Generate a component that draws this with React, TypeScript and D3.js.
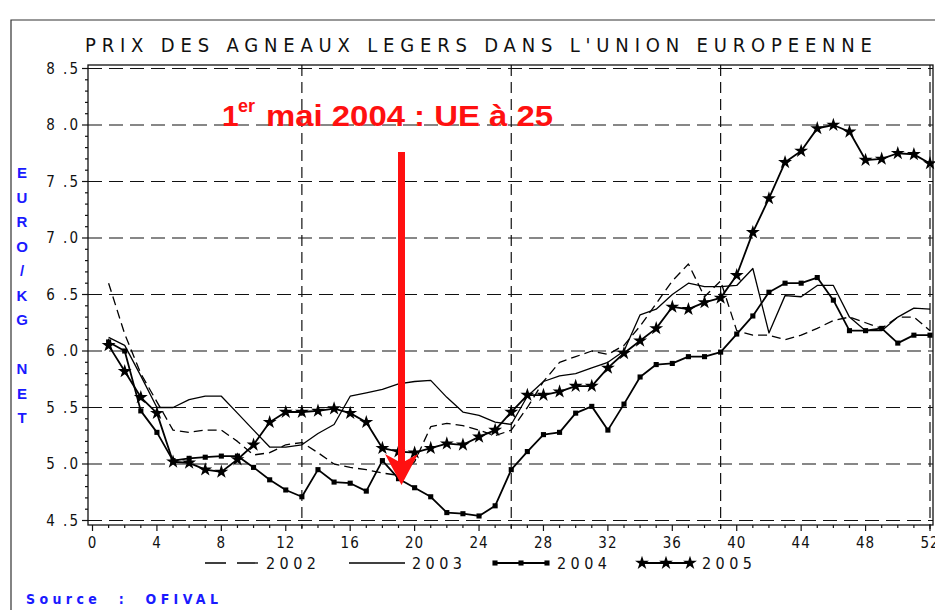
import * as d3 from 'd3';
import React, { useEffect, useRef } from 'react';

const weeks = [1, 2, 3, 4, 5, 6, 7, 8, 9, 10, 11, 12, 13, 14, 15, 16, 17, 18, 19, 20, 21, 22, 23, 24, 25, 26,
    27, 28, 29, 30, 31, 32, 33, 34, 35, 36, 37, 38, 39, 40, 41, 42, 43, 44, 45, 46, 47, 48, 49, 50, 51, 52];

const prix2002 = [6.6, 6.15, 5.8, 5.55, 5.3, 5.28, 5.3, 5.3, 5.2, 5.08, 5.1, 5.17, 5.19, 5.1, 5.0, 4.97, 4.95, 4.92,
    4.9, 5.02, 5.33, 5.36, 5.34, 5.3, 5.25, 5.3, 5.5, 5.73, 5.9, 5.95, 6.0, 5.97, 6.05, 6.22, 6.42, 6.62, 6.77, 6.48,
    6.62, 6.18, 6.14, 6.14, 6.1, 6.14, 6.2, 6.27, 6.3, 6.25, 6.2, 6.3, 6.3, 6.18];

const prix2003 = [6.12, 6.05, 5.78, 5.5, 5.5, 5.57, 5.6, 5.6, 5.45, 5.3, 5.15, 5.15, 5.17, 5.27, 5.35, 5.6, 5.63,
    5.66, 5.71, 5.73, 5.74, 5.59, 5.46, 5.43, 5.37, 5.35, 5.6, 5.73, 5.78, 5.8, 5.85, 5.9, 6.0, 6.32, 6.37, 6.5, 6.6,
    6.57, 6.57, 6.58, 6.73, 6.16, 6.49, 6.48, 6.58, 6.58, 6.3, 6.18, 6.18, 6.3, 6.38, 6.37];

const prix2004 = [6.08, 6.0, 5.47, 5.28, 5.03, 5.05, 5.06, 5.07, 5.07, 4.97, 4.86, 4.77, 4.71, 4.95, 4.84, 4.83,
    4.76, 5.03, 4.87, 4.79, 4.71, 4.57, 4.56, 4.54, 4.63, 4.95, 5.11, 5.26, 5.28, 5.45, 5.51, 5.3, 5.53, 5.77, 5.88,
    5.89, 5.95, 5.95, 5.99, 6.15, 6.31, 6.52, 6.6, 6.6, 6.65, 6.45, 6.18, 6.18, 6.2, 6.07, 6.14, 6.14];

const prix2005 = [6.05, 5.82, 5.59, 5.45, 5.02, 5.01, 4.95, 4.93, 5.04, 5.17, 5.37, 5.46, 5.46, 5.47, 5.49, 5.45,
    5.37, 5.14, 5.11, 5.1, 5.14, 5.18, 5.17, 5.24, 5.3, 5.46, 5.61, 5.61, 5.64, 5.69, 5.69, 5.85, 5.98, 6.09, 6.2,
    6.39, 6.37, 6.43, 6.47, 6.67, 7.05, 7.35, 7.67, 7.77, 7.97, 8.0, 7.94, 7.69, 7.7, 7.75, 7.74, 7.66];

const yTicks = [4.5, 5.0, 5.5, 6.0, 6.5, 7.0, 7.5, 8.0, 8.5];
const xTicks = [0, 4, 8, 12, 16, 20, 24, 28, 32, 36, 40, 44, 48, 52];
const gridWeeks = [13, 26, 39, 52];
const yLabelLetters = ['E', 'U', 'R', 'O', '/', 'K', 'G', '', 'N', 'E', 'T'];

const TITLE = "PRIX DES AGNEAUX LEGERS DANS L'UNION EUROPEENNE";
const NARROW = "'Liberation Sans Narrow', 'DejaVu Sans Condensed', 'Liberation Sans', sans-serif";
const BLUE = '#1a1aff';
const RED = '#ff1010';

const App: React.FC = () => {
    const svgRef = useRef<SVGSVGElement | null>(null);

    useEffect(() => {
        const svg = d3.select(svgRef.current);
        svg.selectAll('*').remove();

        const left = 88, right = 933, top = 65, bottom = 525;
        const x = d3.scaleLinear().domain([0, 52]).range([92.5, 930]);
        const y = d3.scaleLinear().domain([4.5, 8.5]).range([520.5, 68.5]);

        // outer frame of the picture
        svg.append('path')
            .attr('d', `M11,610 V20 H935`)
            .attr('fill', 'none')
            .attr('stroke', '#333')
            .attr('stroke-width', 1.2);

        // title
        svg.append('text')
            .attr('x', 85)
            .attr('y', 52)
            .attr('font-family', NARROW)
            .attr('font-size', 20)
            .attr('textLength', 787)
            .attr('lengthAdjust', 'spacing')
            .attr('fill', '#111')
            .text(TITLE);

        // horizontal dashed grid
        svg.append('g')
            .selectAll('line')
            .data(yTicks)
            .enter()
            .append('line')
            .attr('x1', left)
            .attr('x2', right)
            .attr('y1', d => y(d))
            .attr('y2', d => y(d))
            .attr('stroke', '#111')
            .attr('stroke-width', 1.2)
            .attr('stroke-dasharray', '14,7');

        // vertical dashed grid
        svg.append('g')
            .selectAll('line')
            .data(gridWeeks)
            .enter()
            .append('line')
            .attr('x1', d => x(d))
            .attr('x2', d => x(d))
            .attr('y1', top)
            .attr('y2', bottom + 4)
            .attr('stroke', '#111')
            .attr('stroke-width', 1.2)
            .attr('stroke-dasharray', '11,6');

        // frame
        svg.append('rect')
            .attr('x', left)
            .attr('y', top)
            .attr('width', right - left)
            .attr('height', bottom - top)
            .attr('fill', 'none')
            .attr('stroke', '#111')
            .attr('stroke-width', 1.3);

        // y ticks (major every 0.5, minor every 0.1)
        const yMinor = d3.range(45, 86).map(v => v / 10);
        svg.append('g')
            .selectAll('line')
            .data(yMinor)
            .enter()
            .append('line')
            .attr('x1', d => (Math.round(d * 10) % 5 === 0 ? left - 6 : left - 3))
            .attr('x2', left)
            .attr('y1', d => y(d))
            .attr('y2', d => y(d))
            .attr('stroke', '#111')
            .attr('stroke-width', 1.2);

        svg.append('g')
            .selectAll('text')
            .data(yTicks)
            .enter()
            .append('text')
            .attr('x', 80)
            .attr('y', d => y(d) + 5)
            .attr('text-anchor', 'end')
            .attr('font-family', NARROW)
            .attr('font-size', 15)
            .attr('letter-spacing', 2)
            .attr('fill', '#111')
            .text(d => `${Math.floor(d)} .${Math.round((d % 1) * 10)}`);

        // x ticks (minor every week, major every 4)
        const xMinor = d3.range(0, 53);
        svg.append('g')
            .selectAll('line')
            .data(xMinor)
            .enter()
            .append('line')
            .attr('x1', d => x(d))
            .attr('x2', d => x(d))
            .attr('y1', bottom)
            .attr('y2', d => (d % 4 === 0 ? bottom + 6 : bottom + 3))
            .attr('stroke', '#111')
            .attr('stroke-width', 1.2);

        svg.append('g')
            .selectAll('text')
            .data(xTicks)
            .enter()
            .append('text')
            .attr('x', d => x(d))
            .attr('y', 548)
            .attr('text-anchor', 'middle')
            .attr('font-family', NARROW)
            .attr('font-size', 15)
            .attr('letter-spacing', 1)
            .attr('fill', '#111')
            .text(d => String(d));

        // y axis title, stacked letters
        svg.append('g')
            .selectAll('text')
            .data(yLabelLetters)
            .enter()
            .append('text')
            .attr('x', 22)
            .attr('y', (d, i) => 178 + i * 24.5)
            .attr('text-anchor', 'middle')
            .attr('font-family', "'Liberation Sans', Arial, sans-serif")
            .attr('font-weight', 'bold')
            .attr('font-size', 15)
            .attr('fill', BLUE)
            .text(d => d);

        // series
        const line = d3.line<number>()
            .x((d, i) => x(weeks[i]))
            .y(d => y(d));

        const series = [
            { values: prix2002, dash: '9,5', width: 1.3 },
            { values: prix2003, dash: null, width: 1.3 },
            { values: prix2004, dash: null, width: 1.8 },
            { values: prix2005, dash: null, width: 1.8 },
        ];

        series.forEach(s => {
            svg.append('path')
                .datum(s.values)
                .attr('d', line)
                .attr('fill', 'none')
                .attr('stroke', '#000')
                .attr('stroke-width', s.width)
                .attr('stroke-dasharray', s.dash)
                .attr('stroke-linejoin', 'round');
        });

        const square = d3.symbol().type(d3.symbolSquare).size(26);
        const star = d3.symbol().type(d3.symbolStar).size(60);

        svg.append('g')
            .selectAll('path')
            .data(prix2004)
            .enter()
            .append('path')
            .attr('d', square)
            .attr('transform', (d, i) => `translate(${x(weeks[i])},${y(d)})`)
            .attr('fill', '#000');

        svg.append('g')
            .selectAll('path')
            .data(prix2005)
            .enter()
            .append('path')
            .attr('d', star)
            .attr('transform', (d, i) => `translate(${x(weeks[i])},${y(d)})`)
            .attr('fill', '#000');

        // legend
        const legY = 563;
        const legend = svg.append('g');
        legend.append('line')
            .attr('x1', 205).attr('x2', 258).attr('y1', legY).attr('y2', legY)
            .attr('stroke', '#000').attr('stroke-width', 1.3).attr('stroke-dasharray', '21,11');
        legend.append('line')
            .attr('x1', 349).attr('x2', 405).attr('y1', legY).attr('y2', legY)
            .attr('stroke', '#000').attr('stroke-width', 1.3);
        legend.append('line')
            .attr('x1', 495).attr('x2', 547).attr('y1', legY).attr('y2', legY)
            .attr('stroke', '#000').attr('stroke-width', 1.8);
        [495, 521, 547].forEach(px => {
            legend.append('path').attr('d', square).attr('transform', `translate(${px},${legY})`).attr('fill', '#000');
        });
        legend.append('line')
            .attr('x1', 642).attr('x2', 690).attr('y1', legY).attr('y2', legY)
            .attr('stroke', '#000').attr('stroke-width', 1.8);
        [642, 666, 690].forEach(px => {
            legend.append('path').attr('d', star).attr('transform', `translate(${px},${legY})`).attr('fill', '#000');
        });
        const legendLabels = [
            { t: '2002', x: 266 },
            { t: '2003', x: 412 },
            { t: '2004', x: 557 },
            { t: '2005', x: 702 },
        ];
        legendLabels.forEach(l => {
            legend.append('text')
                .attr('x', l.x)
                .attr('y', legY + 6)
                .attr('font-family', NARROW)
                .attr('font-size', 16)
                .attr('textLength', 50)
                .attr('lengthAdjust', 'spacing')
                .attr('fill', '#111')
                .text(l.t);
        });

        // source
        svg.append('text')
            .attr('x', 26)
            .attr('y', 604)
            .attr('font-family', NARROW)
            .attr('font-size', 14)
            .attr('font-weight', 'bold')
            .attr('textLength', 192)
            .attr('lengthAdjust', 'spacing')
            .attr('fill', BLUE)
            .style('white-space', 'pre')
            .text('Source  :  OFIVAL');

        // annotation
        const ann = svg.append('g').attr('fill', RED).attr('font-family', "'Liberation Sans', Arial, sans-serif").attr('font-weight', 'bold');
        ann.append('text').attr('x', 222).attr('y', 126).attr('font-size', 30).text('1');
        ann.append('text').attr('x', 238).attr('y', 112).attr('font-size', 18).text('er');
        ann.append('text')
            .attr('x', 266)
            .attr('y', 126)
            .attr('font-size', 30)
            .attr('textLength', 287)
            .attr('lengthAdjust', 'spacingAndGlyphs')
            .text('mai 2004 : UE à 25');

        svg.append('rect')
            .attr('x', 398)
            .attr('y', 152)
            .attr('width', 7)
            .attr('height', 312)
            .attr('fill', RED);
        svg.append('path')
            .attr('d', 'M385,454 L401.5,463 L418,454 L401.5,485 Z')
            .attr('fill', RED);
    }, []);

    return (
        <svg
            ref={svgRef}
            width={935}
            height={610}
            style={{ position: 'absolute', left: 0, top: 0, background: '#fff' }}
        ></svg>
    );
};

export default App;
